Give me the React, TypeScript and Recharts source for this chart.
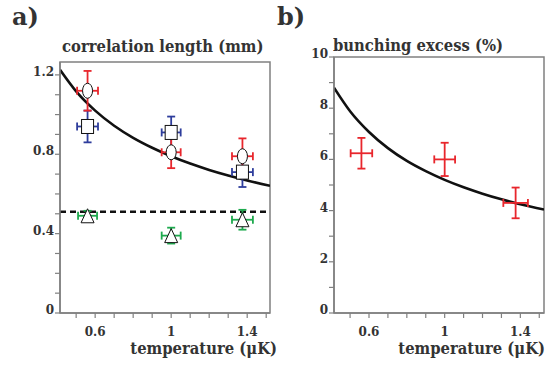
import React from "react";
import {
  ComposedChart,
  Line,
  Scatter,
  ErrorBar,
  XAxis,
  YAxis,
  ReferenceLine,
  ReferenceArea,
} from "recharts";

// temperatures (µK) of the three measurements
const temps = [0.56, 1.0, 1.375];

// panel a: correlation length (mm)
const circleLen = [1.12, 0.81, 0.79];
const circleErrY = [0.1, 0.08, 0.09];
const circleErrX = [0.055, 0.05, 0.055];
const squareLen = [0.94, 0.91, 0.71];
const squareErrY = [0.08, 0.08, 0.075];
const squareErrX = [0.055, 0.05, 0.055];
const triLen = [0.49, 0.39, 0.47];
const triErrY = [0.025, 0.04, 0.05];
const triErrX = [0.05, 0.05, 0.055];
const dashedLevel = 0.51;

// fit curve
const fitTempA = [0.415, 0.5, 0.6, 0.7, 0.8, 0.9, 1.0, 1.1, 1.2, 1.3, 1.4, 1.52];
const fitLenA = [1.226, 1.117, 1.02, 0.944, 0.883, 0.833, 0.79, 0.753, 0.721, 0.693, 0.668, 0.641];

// panel b: bunching excess (%)
const bunching = [6.24, 6.0, 4.3];
const bunchErrY = [0.6, 0.65, 0.6];
const bunchErrX = [0.057, 0.055, 0.065];
const fitTempB = [0.415, 0.5, 0.6, 0.7, 0.8, 0.9, 1.0, 1.1, 1.2, 1.3, 1.4, 1.525];
const fitBunchB = [8.8, 7.88, 7.07, 6.44, 5.94, 5.54, 5.2, 4.91, 4.66, 4.44, 4.25, 4.04];

const xTicks = [0.5, 0.6, 0.7, 0.8, 0.9, 1.0, 1.1, 1.2, 1.3, 1.4, 1.5];
const xLabels = ["", "0.6", "", "", "", "1", "", "", "", "1.4", ""];
const yTicksA = [0, 0.1, 0.2, 0.3, 0.4, 0.5, 0.6, 0.7, 0.8, 0.9, 1.0, 1.1, 1.2];
const yLabelsA = ["0", "", "", "", "0.4", "", "", "", "0.8", "", "", "", "1.2"];
const yTicksB = [0, 1, 2, 3, 4, 5, 6, 7, 8, 9, 10];
const yLabelsB = ["0", "", "2", "", "4", "", "6", "", "8", "", "10"];

const FONT = "'DejaVu Serif', serif";
const TEXT = "#333";
const AXIS = "#808080";
const RED = "#e8262c";
const BLUE = "#2e3d9c";
const GREEN = "#1eaa4e";

const TICK_SIZE = 5;
const TICK_MARGIN = 3;

const pts = (ys: number[], ey: number[], ex: number[]) =>
  temps.map((x, i) => ({ x, y: ys[i], ey: ey[i], ex: ex[i] }));

const circleData = pts(circleLen, circleErrY, circleErrX);
const squareData = pts(squareLen, squareErrY, squareErrX);
const triData = pts(triLen, triErrY, triErrX);
const bunchData = pts(bunching, bunchErrY, bunchErrX);
const fitA = fitTempA.map((x, i) => ({ x, y: fitLenA[i] }));
const fitB = fitTempB.map((x, i) => ({ x, y: fitBunchB[i] }));

const BottomTick = (labels: string[]) => (props: any) => {
  const { x, y, index } = props;
  const axisY = y - TICK_SIZE - TICK_MARGIN;
  const label = labels[index];
  return (
    <g>
      <line x1={x} x2={x} y1={axisY} y2={axisY + TICK_SIZE} stroke={AXIS} strokeWidth={1.2} />
      {label && (
        <text x={x} y={axisY + 23} textAnchor="middle" fill={TEXT} fontFamily={FONT} fontWeight="bold" fontSize={12}>
          {label}
        </text>
      )}
    </g>
  );
};

const LeftTick = (labels: string[]) => (props: any) => {
  const { x, y, index } = props;
  const axisX = x + TICK_SIZE + TICK_MARGIN;
  const label = labels[index];
  return (
    <g>
      <line x1={axisX - TICK_SIZE} x2={axisX} y1={y} y2={y} stroke={AXIS} strokeWidth={1.2} />
      {label && (
        <text x={axisX - 6} y={y + 1} textAnchor="end" fill={TEXT} fontFamily={FONT} fontWeight="bold" fontSize={12}>
          {label}
        </text>
      )}
    </g>
  );
};

const Ellipse = (p: any) => (
  <ellipse cx={p.cx} cy={p.cy} rx={5} ry={7.5} fill="#fff" stroke="#111" strokeWidth={1} />
);
const Square = (p: any) => (
  <rect x={p.cx - 6} y={p.cy - 7} width={12} height={14} fill="#fff" stroke="#111" strokeWidth={1} />
);
const Triangle = (p: any) => (
  <path
    d={`M${p.cx},${p.cy - 7} L${p.cx + 6.5},${p.cy + 7} L${p.cx - 6.5},${p.cy + 7} Z`}
    fill="#fff"
    stroke="#111"
    strokeWidth={1}
  />
);
const Nothing = () => <g />;

const textStyle = (size: number, stretch = 1.15): React.CSSProperties => ({
  position: "absolute",
  fontFamily: FONT,
  fontWeight: "bold",
  fontSize: size,
  color: TEXT,
  lineHeight: 1,
  whiteSpace: "nowrap",
  transform: `scaleY(${stretch})`,
  transformOrigin: "50% 85%",
});

export default function App() {
  return (
    <div style={{ position: "absolute", left: 0, top: 0, width: 546, height: 368, background: "#fff" }}>
      <div style={{ ...textStyle(24, 1), left: 12, top: 5 }}>a)</div>
      <div style={{ ...textStyle(24, 1), left: 277, top: 5 }}>b)</div>
      <div style={{ ...textStyle(14.8), left: 62, top: 40 }}>correlation length (mm)</div>
      <div style={{ ...textStyle(14.8), left: 333, top: 39 }}>bunching excess (%)</div>
      <div style={{ ...textStyle(14.8), right: 546 - 277, top: 342 }}>temperature (μK)</div>
      <div style={{ ...textStyle(14.8), right: 1, top: 342 }}>temperature (μK)</div>

      <div style={{ position: "absolute", left: 0, top: 0 }}>
        <ComposedChart width={280} height={368} margin={{ top: 62, right: 10, bottom: 25, left: 0 }}>
          <XAxis
            type="number"
            dataKey="x"
            domain={[0.415, 1.52]}
            ticks={xTicks}
            interval={0}
            allowDataOverflow
            height={30}
            tickSize={TICK_SIZE}
            tickMargin={TICK_MARGIN}
            tickLine={false}
            axisLine={{ stroke: AXIS, strokeWidth: 1.5 }}
            tick={BottomTick(xLabels)}
          />
          <YAxis
            type="number"
            dataKey="y"
            domain={[0, 1.265]}
            ticks={yTicksA}
            interval={0}
            allowDataOverflow
            width={60}
            tickSize={TICK_SIZE}
            tickMargin={TICK_MARGIN}
            tickLine={false}
            axisLine={{ stroke: AXIS, strokeWidth: 1.5 }}
            tick={LeftTick(yLabelsA)}
          />
          <ReferenceArea x1={0.415} x2={1.52} y1={0} y2={1.265} fill="none" stroke={AXIS} strokeWidth={1.5} />
          <ReferenceLine y={dashedLevel} stroke="#111" strokeWidth={2.5} strokeDasharray="6 4" />
          <Line data={fitA} dataKey="y" type="monotone" stroke="#111" strokeWidth={2.6} dot={false} isAnimationActive={false} />
          <Scatter data={triData} shape={Triangle} isAnimationActive={false}>
            <ErrorBar dataKey="ey" direction="y" stroke={GREEN} strokeWidth={1.8} width={4} />
            <ErrorBar dataKey="ex" direction="x" stroke={GREEN} strokeWidth={1.8} width={4} />
          </Scatter>
          <Scatter data={squareData} shape={Square} isAnimationActive={false}>
            <ErrorBar dataKey="ey" direction="y" stroke={BLUE} strokeWidth={1.8} width={4} />
            <ErrorBar dataKey="ex" direction="x" stroke={BLUE} strokeWidth={1.8} width={4} />
          </Scatter>
          <Scatter data={circleData} shape={Ellipse} isAnimationActive={false}>
            <ErrorBar dataKey="ey" direction="y" stroke={RED} strokeWidth={1.8} width={4} />
            <ErrorBar dataKey="ex" direction="x" stroke={RED} strokeWidth={1.8} width={4} />
          </Scatter>
        </ComposedChart>
      </div>

      <div style={{ position: "absolute", left: 270, top: 0 }}>
        <ComposedChart width={276} height={368} margin={{ top: 57, right: 2, bottom: 25, left: 0 }}>
          <XAxis
            type="number"
            dataKey="x"
            domain={[0.415, 1.525]}
            ticks={xTicks}
            interval={0}
            allowDataOverflow
            height={30}
            tickSize={TICK_SIZE}
            tickMargin={TICK_MARGIN}
            tickLine={false}
            axisLine={{ stroke: AXIS, strokeWidth: 1.5 }}
            tick={BottomTick(xLabels)}
          />
          <YAxis
            type="number"
            dataKey="y"
            domain={[0, 10]}
            ticks={yTicksB}
            interval={0}
            allowDataOverflow
            width={64}
            tickSize={TICK_SIZE}
            tickMargin={TICK_MARGIN}
            tickLine={false}
            axisLine={{ stroke: AXIS, strokeWidth: 1.5 }}
            tick={LeftTick(yLabelsB)}
          />
          <ReferenceArea x1={0.415} x2={1.525} y1={0} y2={10} fill="none" stroke={AXIS} strokeWidth={1.5} />
          <Line data={fitB} dataKey="y" type="monotone" stroke="#111" strokeWidth={2.6} dot={false} isAnimationActive={false} />
          <Scatter data={bunchData} shape={Nothing} isAnimationActive={false}>
            <ErrorBar dataKey="ey" direction="y" stroke={RED} strokeWidth={1.8} width={4} />
            <ErrorBar dataKey="ex" direction="x" stroke={RED} strokeWidth={1.8} width={4} />
          </Scatter>
        </ComposedChart>
      </div>
    </div>
  );
}
